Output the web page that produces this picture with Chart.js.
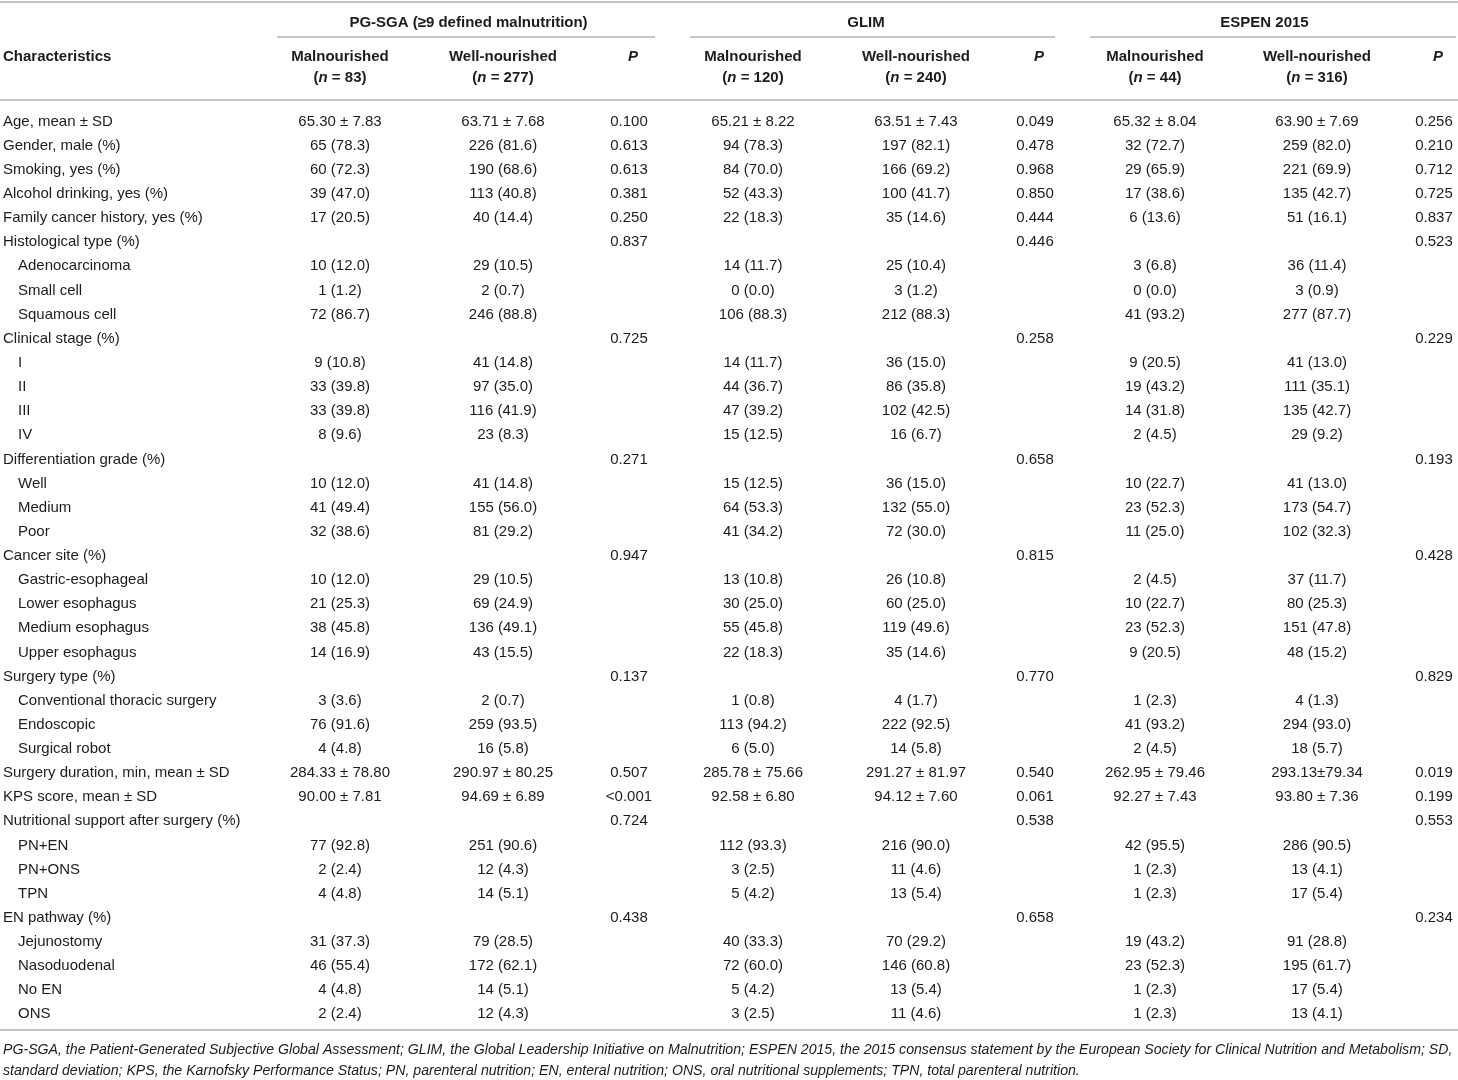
<!DOCTYPE html>
<html>
<head>
<meta charset="utf-8">
<script src="https://cdn.jsdelivr.net/npm/chart.js@4.4.1/dist/chart.umd.min.js"></script>
<style>
html,body{margin:0;padding:0;background:#fff;}
#wrap{width:1458px;height:1080px;position:relative;}
</style>
</head>
<body>
<div id="wrap"><canvas id="c"></canvas></div>
<script>
// ---------- DATA ----------
const characteristics = [
  "Age, mean ± SD","Gender, male (%)","Smoking, yes (%)","Alcohol drinking, yes (%)","Family cancer history, yes (%)",
  "Histological type (%)","Adenocarcinoma","Small cell","Squamous cell",
  "Clinical stage (%)","I","II","III","IV",
  "Differentiation grade (%)","Well","Medium","Poor",
  "Cancer site (%)","Gastric-esophageal","Lower esophagus","Medium esophagus","Upper esophagus",
  "Surgery type (%)","Conventional thoracic surgery","Endoscopic","Surgical robot",
  "Surgery duration, min, mean ± SD","KPS score, mean ± SD",
  "Nutritional support after surgery (%)","PN+EN","PN+ONS","TPN",
  "EN pathway (%)","Jejunostomy","Nasoduodenal","No EN","ONS"
];
const subRows = [6,7,8,10,11,12,13,15,16,17,19,20,21,22,24,25,26,30,31,32,34,35,36,37];

const groupTitles = ["PG-SGA (≥9 defined malnutrition)","GLIM","ESPEN 2015"];
const groupN = [[83,277],[120,240],[44,316]];

const pgMal = ["65.30 ± 7.83","65 (78.3)","60 (72.3)","39 (47.0)","17 (20.5)","","10 (12.0)","1 (1.2)","72 (86.7)","","9 (10.8)","33 (39.8)","33 (39.8)","8 (9.6)","","10 (12.0)","41 (49.4)","32 (38.6)","","10 (12.0)","21 (25.3)","38 (45.8)","14 (16.9)","","3 (3.6)","76 (91.6)","4 (4.8)","284.33 ± 78.80","90.00 ± 7.81","","77 (92.8)","2 (2.4)","4 (4.8)","","31 (37.3)","46 (55.4)","4 (4.8)","2 (2.4)"];
const pgWell = ["63.71 ± 7.68","226 (81.6)","190 (68.6)","113 (40.8)","40 (14.4)","","29 (10.5)","2 (0.7)","246 (88.8)","","41 (14.8)","97 (35.0)","116 (41.9)","23 (8.3)","","41 (14.8)","155 (56.0)","81 (29.2)","","29 (10.5)","69 (24.9)","136 (49.1)","43 (15.5)","","2 (0.7)","259 (93.5)","16 (5.8)","290.97 ± 80.25","94.69 ± 6.89","","251 (90.6)","12 (4.3)","14 (5.1)","","79 (28.5)","172 (62.1)","14 (5.1)","12 (4.3)"];
const pgP = ["0.100","0.613","0.613","0.381","0.250","0.837","","","","0.725","","","","","0.271","","","","0.947","","","","","0.137","","","","0.507","<0.001","0.724","","","","0.438","","","",""];

const glimMal = ["65.21 ± 8.22","94 (78.3)","84 (70.0)","52 (43.3)","22 (18.3)","","14 (11.7)","0 (0.0)","106 (88.3)","","14 (11.7)","44 (36.7)","47 (39.2)","15 (12.5)","","15 (12.5)","64 (53.3)","41 (34.2)","","13 (10.8)","30 (25.0)","55 (45.8)","22 (18.3)","","1 (0.8)","113 (94.2)","6 (5.0)","285.78 ± 75.66","92.58 ± 6.80","","112 (93.3)","3 (2.5)","5 (4.2)","","40 (33.3)","72 (60.0)","5 (4.2)","3 (2.5)"];
const glimWell = ["63.51 ± 7.43","197 (82.1)","166 (69.2)","100 (41.7)","35 (14.6)","","25 (10.4)","3 (1.2)","212 (88.3)","","36 (15.0)","86 (35.8)","102 (42.5)","16 (6.7)","","36 (15.0)","132 (55.0)","72 (30.0)","","26 (10.8)","60 (25.0)","119 (49.6)","35 (14.6)","","4 (1.7)","222 (92.5)","14 (5.8)","291.27 ± 81.97","94.12 ± 7.60","","216 (90.0)","11 (4.6)","13 (5.4)","","70 (29.2)","146 (60.8)","13 (5.4)","11 (4.6)"];
const glimP = ["0.049","0.478","0.968","0.850","0.444","0.446","","","","0.258","","","","","0.658","","","","0.815","","","","","0.770","","","","0.540","0.061","0.538","","","","0.658","","","",""];

const espenMal = ["65.32 ± 8.04","32 (72.7)","29 (65.9)","17 (38.6)","6 (13.6)","","3 (6.8)","0 (0.0)","41 (93.2)","","9 (20.5)","19 (43.2)","14 (31.8)","2 (4.5)","","10 (22.7)","23 (52.3)","11 (25.0)","","2 (4.5)","10 (22.7)","23 (52.3)","9 (20.5)","","1 (2.3)","41 (93.2)","2 (4.5)","262.95 ± 79.46","92.27 ± 7.43","","42 (95.5)","1 (2.3)","1 (2.3)","","19 (43.2)","23 (52.3)","1 (2.3)","1 (2.3)"];
const espenWell = ["63.90 ± 7.69","259 (82.0)","221 (69.9)","135 (42.7)","51 (16.1)","","36 (11.4)","3 (0.9)","277 (87.7)","","41 (13.0)","111 (35.1)","135 (42.7)","29 (9.2)","","41 (13.0)","173 (54.7)","102 (32.3)","","37 (11.7)","80 (25.3)","151 (47.8)","48 (15.2)","","4 (1.3)","294 (93.0)","18 (5.7)","293.13±79.34","93.80 ± 7.36","","286 (90.5)","13 (4.1)","17 (5.4)","","91 (28.8)","195 (61.7)","17 (5.4)","13 (4.1)"];
const espenP = ["0.256","0.210","0.712","0.725","0.837","0.523","","","","0.229","","","","","0.193","","","","0.428","","","","","0.829","","","","0.019","0.199","0.553","","","","0.234","","","",""];

const footnotes = [
  "PG-SGA, the Patient-Generated Subjective Global Assessment; GLIM, the Global Leadership Initiative on Malnutrition; ESPEN 2015, the 2015 consensus statement by the European Society for Clinical Nutrition and Metabolism; SD,",
  "standard deviation; KPS, the Karnofsky Performance Status; PN, parenteral nutrition; EN, enteral nutrition; ONS, oral nutritional supplements; TPN, total parenteral nutrition."
];

// ---------- LAYOUT ----------
const FONT = "'Liberation Sans', Arial, Helvetica, sans-serif";
const TXT = "#1c1c1c";
const RULE = "#c4c4c4";
const colCenters = [340, 503, 629, 753, 916, 1035, 1155, 1317, 1434];
const columns = [pgMal, pgWell, pgP, glimMal, glimWell, glimP, espenMal, espenWell, espenP];
const groupSpans = [[277, 655], [690, 1055], [1090, 1456]];

const datasets = columns.map((col, ci) => ({
  label: "col" + ci,
  data: col.map((v, ri) => ({ x: colCenters[ci], y: characteristics[ri], t: v })),
  pointRadius: 0,
  pointHoverRadius: 0,
  showLine: false
}));

function drawNText(ctx, x, y, n, font, fontItalic) {
  const parts = [["(", font], ["n", fontItalic], [" = " + n + ")", font]];
  let w = 0;
  parts.forEach(p => { ctx.font = p[1]; w += ctx.measureText(p[0]).width; });
  let cx = x - w / 2;
  ctx.textAlign = "left";
  parts.forEach(p => { ctx.font = p[1]; ctx.fillText(p[0], cx, y); cx += ctx.measureText(p[0]).width; });
}

const tablePlugin = {
  id: "tableText",
  afterDatasetsDraw(chart) {
    const ctx = chart.ctx;
    const yS = chart.scales.y;
    ctx.save();
    ctx.fillStyle = TXT;
    ctx.textBaseline = "middle";

    ctx.strokeStyle = RULE;
    ctx.lineWidth = 2;
    const hline = (x1, x2, y) => { ctx.beginPath(); ctx.moveTo(x1, y); ctx.lineTo(x2, y); ctx.stroke(); };
    hline(0, 1458, 2);
    groupSpans.forEach(s => hline(s[0], s[1], 37));
    hline(0, 1458, 100);
    hline(0, 1458, 1030);

    const bold = "bold 15px " + FONT;
    const boldIt = "italic bold 15px " + FONT;
    ctx.font = bold;
    ctx.textAlign = "center";
    groupTitles.forEach((g, gi) => {
      const cx = (colCenters[gi * 3] + colCenters[gi * 3 + 2]) / 2 + (gi === 0 ? -16 : (gi === 1 ? -28 : -30));
      ctx.fillText(g, cx, 23);
    });
    ctx.textAlign = "left";
    ctx.fillText("Characteristics", 3, 57);
    for (let gi = 0; gi < 3; gi++) {
      ctx.font = bold; ctx.textAlign = "center";
      ctx.fillText("Malnourished", colCenters[gi * 3], 57);
      ctx.fillText("Well-nourished", colCenters[gi * 3 + 1], 57);
      ctx.font = boldIt;
      ctx.fillText("P", colCenters[gi * 3 + 2] + 4, 57);
      drawNText(ctx, colCenters[gi * 3], 78, groupN[gi][0], bold, boldIt);
      drawNText(ctx, colCenters[gi * 3 + 1], 78, groupN[gi][1], bold, boldIt);
    }

    ctx.font = "15px " + FONT;
    ctx.textAlign = "left";
    characteristics.forEach((lab, ri) => {
      const y = yS.getPixelForValue(ri);
      ctx.fillText(lab, subRows.includes(ri) ? 18 : 3, y);
    });

    ctx.textAlign = "center";
    chart.data.datasets.forEach((ds, di) => {
      const meta = chart.getDatasetMeta(di);
      meta.data.forEach((el, i) => {
        const t = ds.data[i].t;
        if (t) ctx.fillText(t, el.x, el.y);
      });
    });

    ctx.font = "italic 14.15px " + FONT;
    ctx.textAlign = "left";
    footnotes.forEach((f, i) => ctx.fillText(f, 3, 1050 + i * 21));
    ctx.restore();
  }
};

new Chart(document.getElementById("c"), {
  type: "scatter",
  data: { labels: characteristics, datasets },
  options: {
    responsive: true,
    maintainAspectRatio: false,
    animation: false,
    events: [],
    layout: { padding: { top: 109.5, bottom: 53.6, left: 0, right: 0 } },
    plugins: { legend: { display: false }, tooltip: { enabled: false } },
    scales: {
      x: { type: "linear", min: 0, max: 1458, display: false },
      y: { type: "category", labels: characteristics, offset: true, display: false, grid: { display: false } }
    }
  },
  plugins: [tablePlugin]
});
</script>
</body>
</html>
